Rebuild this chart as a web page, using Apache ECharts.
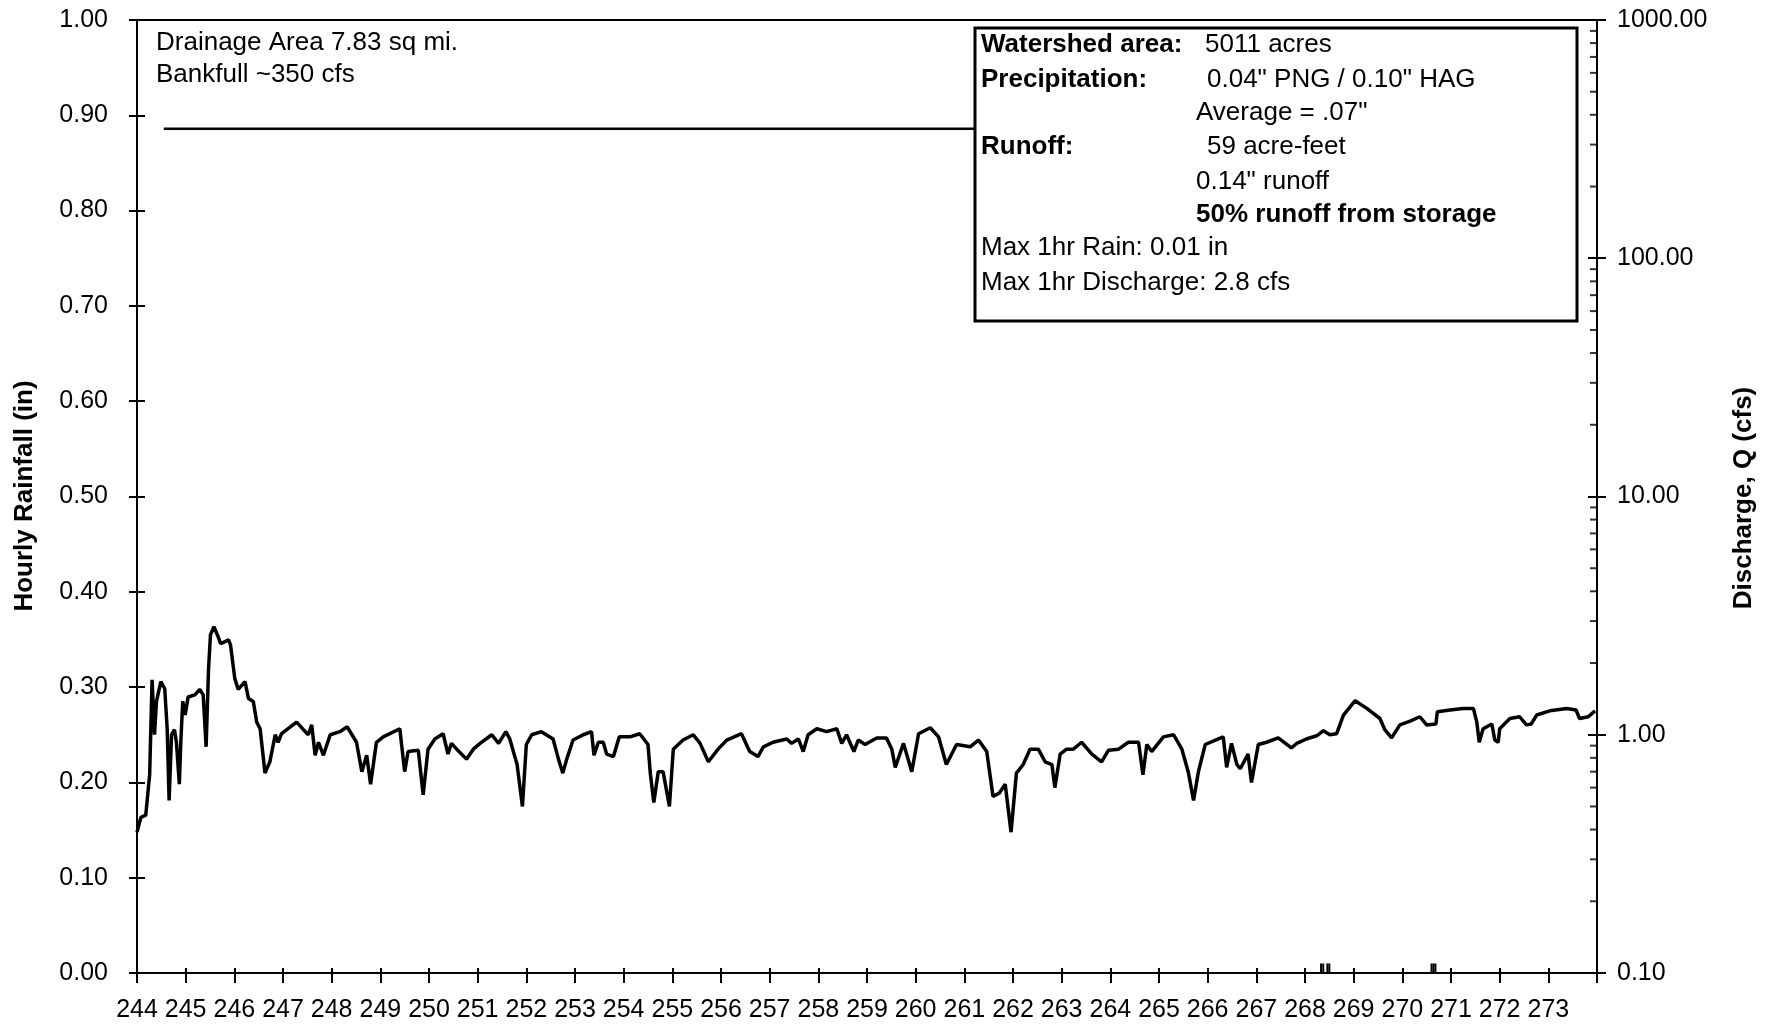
<!DOCTYPE html>
<html>
<head>
<meta charset="utf-8">
<script src="https://cdn.jsdelivr.net/npm/echarts@6/dist/echarts.min.js"></script>
<style>
html, body { margin: 0; padding: 0; background: #fff; }
#chart { width: 1776px; height: 1032px; }
</style>
</head>
<body>
<div id="chart"></div>
<script>
const dischargeDay = [
  244.00, 244.08, 244.18, 244.26, 244.31, 244.36, 244.40, 244.49, 244.57, 244.62,
  244.66, 244.71, 244.77, 244.81, 244.87, 244.90, 244.94, 244.99, 245.05, 245.19,
  245.29, 245.36, 245.42, 245.47, 245.51, 245.58, 245.65, 245.72, 245.88, 245.92,
  246.01, 246.08, 246.22, 246.29, 246.39, 246.46, 246.53, 246.63, 246.73, 246.84,
  246.90, 246.97, 247.28, 247.42, 247.52, 247.59, 247.66, 247.73, 247.83, 247.97,
  248.17, 248.32, 248.51, 248.62, 248.72, 248.80, 248.92, 249.06, 249.40, 249.50,
  249.57, 249.78, 249.88, 249.98, 250.12, 250.29, 250.39, 250.46, 250.57, 250.77,
  250.91, 251.05, 251.29, 251.43, 251.58, 251.66, 251.81, 251.92, 252.00, 252.11,
  252.31, 252.55, 252.66, 252.75, 252.83, 252.96, 253.17, 253.34, 253.39, 253.48,
  253.58, 253.65, 253.79, 253.91, 254.13, 254.33, 254.50, 254.55, 254.62, 254.71,
  254.81, 254.94, 255.02, 255.22, 255.43, 255.57, 255.74, 255.94, 256.12, 256.42,
  256.59, 256.76, 256.87, 257.07, 257.35, 257.45, 257.59, 257.69, 257.79, 257.97,
  258.17, 258.38, 258.48, 258.58, 258.73, 258.82, 258.96, 259.20, 259.40, 259.51,
  259.58, 259.75, 259.92, 260.06, 260.30, 260.47, 260.63, 260.84, 261.12, 261.29,
  261.46, 261.59, 261.72, 261.84, 261.96, 262.07, 262.21, 262.35, 262.52, 262.66,
  262.80, 262.86, 262.97, 263.10, 263.24, 263.41, 263.62, 263.82, 263.96, 264.17,
  264.37, 264.58, 264.67, 264.75, 264.85, 265.09, 265.30, 265.47, 265.60, 265.71,
  265.81, 265.95, 266.16, 266.32, 266.39, 266.49, 266.60, 266.67, 266.83, 266.90,
  267.04, 267.21, 267.45, 267.72, 267.83, 268.03, 268.24, 268.38, 268.51, 268.65,
  268.79, 269.03, 269.27, 269.54, 269.64, 269.78, 269.95, 270.16, 270.36, 270.50,
  270.69, 270.72, 270.98, 271.25, 271.46, 271.53, 271.58, 271.66, 271.84, 271.90,
  271.97, 272.00, 272.21, 272.41, 272.55, 272.65, 272.76, 273.03, 273.38, 273.57,
  273.64, 273.82, 273.96
];
const dischargeQ = [
  0.39, 0.45, 0.46, 0.68, 1.70, 1.00, 1.38, 1.67, 1.56, 1.06,
  0.53, 1.00, 1.05, 0.93, 0.62, 0.93, 1.38, 1.21, 1.44, 1.47,
  1.55, 1.47, 0.89, 1.89, 2.63, 2.84, 2.63, 2.41, 2.50, 2.39,
  1.72, 1.55, 1.67, 1.42, 1.38, 1.13, 1.06, 0.69, 0.77, 1.00,
  0.93, 1.01, 1.13, 1.05, 1.00, 1.10, 0.82, 0.93, 0.82, 1.00,
  1.03, 1.08, 0.93, 0.70, 0.82, 0.62, 0.93, 0.98, 1.06, 0.70,
  0.85, 0.86, 0.56, 0.87, 0.96, 1.01, 0.83, 0.92, 0.87, 0.79,
  0.87, 0.92, 1.00, 0.92, 1.03, 0.96, 0.75, 0.50, 0.91, 1.00,
  1.03, 0.96, 0.79, 0.69, 0.79, 0.95, 1.00, 1.03, 0.82, 0.93,
  0.93, 0.83, 0.81, 0.98, 0.98, 1.01, 0.91, 0.68, 0.52, 0.70,
  0.70, 0.50, 0.87, 0.95, 1.00, 0.92, 0.77, 0.87, 0.95, 1.01,
  0.85, 0.81, 0.89, 0.93, 0.96, 0.92, 0.96, 0.85, 1.00, 1.06,
  1.03, 1.06, 0.92, 1.00, 0.85, 0.95, 0.91, 0.97, 0.97, 0.87,
  0.73, 0.92, 0.70, 1.01, 1.07, 0.98, 0.75, 0.91, 0.89, 0.95,
  0.85, 0.55, 0.57, 0.62, 0.39, 0.69, 0.75, 0.87, 0.87, 0.77,
  0.75, 0.60, 0.83, 0.87, 0.87, 0.93, 0.83, 0.77, 0.86, 0.87,
  0.93, 0.93, 0.68, 0.91, 0.85, 0.98, 1.00, 0.87, 0.70, 0.53,
  0.70, 0.91, 0.95, 0.98, 0.73, 0.92, 0.75, 0.72, 0.83, 0.63,
  0.91, 0.93, 0.97, 0.88, 0.92, 0.96, 0.99, 1.04, 1.00, 1.01,
  1.21, 1.39, 1.29, 1.17, 1.05, 0.97, 1.10, 1.14, 1.19, 1.10,
  1.11, 1.25, 1.27, 1.29, 1.29, 1.13, 0.93, 1.06, 1.11, 0.95,
  0.93, 1.06, 1.17, 1.19, 1.10, 1.11, 1.21, 1.26, 1.29, 1.27,
  1.17, 1.19, 1.26
];

// hourly rainfall (in)
const rainDay = [268.33, 268.375, 268.46, 268.50, 270.60, 270.64, 270.68];
const rainIn = [0.01, 0.01, 0.01, 0.01, 0.01, 0.01, 0.01];

// bankfull reference line
const bankfullDay = [244.55, 268.0];
const bankfullQ = [350, 350];

// minor ticks of the log axis
const minorTickQ = [
  0.2, 0.3, 0.4, 0.5, 0.6, 0.7, 0.8, 0.9,
  2, 3, 4, 5, 6, 7, 8, 9,
  20, 30, 40, 50, 60, 70, 80, 90,
  200, 300, 400, 500, 600, 700, 800, 900
];

const FONT = '"Liberation Sans", Arial, sans-serif';
const zip = (a, b) => a.map((v, i) => [v, b[i]]);

const chart = echarts.init(document.getElementById('chart'));

const txt = (text, x, y, bold) => ({
  type: 'text',
  z: 110,
  style: {
    text: text,
    x: x,
    y: y,
    textVerticalAlign: 'middle',
    font: (bold ? 'bold ' : '') + '26px ' + FONT,
    fill: '#000'
  }
});

const option = {
  animation: false,
  backgroundColor: '#fff',
  grid: {
    left: 137, right: 179, top: 20, bottom: 59,
    show: true, borderColor: '#000', borderWidth: 2, backgroundColor: 'transparent'
  },
  xAxis: [
    {
      type: 'value', min: 244, max: 274, interval: 1,
      axisLine: { lineStyle: { color: '#000', width: 2 } },
      axisTick: { length: 10, lineStyle: { color: '#000', width: 2 } },
      splitLine: { show: false },
      axisLabel: {
        color: '#000', fontSize: 25, fontFamily: FONT, margin: 25,
        formatter: v => (v === 274 ? '' : String(v))
      }
    },
    {
      type: 'value', min: 244, max: 274, interval: 1, position: 'bottom',
      axisLine: { show: false },
      axisTick: { inside: true, length: 5, lineStyle: { color: '#000', width: 2 } },
      splitLine: { show: false },
      axisLabel: { show: false }
    }
  ],
  yAxis: [
    {
      type: 'value', min: 0, max: 1, interval: 0.1, position: 'left',
      axisLine: { show: true, lineStyle: { color: '#000', width: 2 } },
      axisTick: { show: true, length: 8, lineStyle: { color: '#000', width: 2 } },
      splitLine: { show: false },
      axisLabel: {
        color: '#000', fontSize: 25, fontFamily: FONT, margin: 29,
        formatter: v => v.toFixed(2)
      }
    },
    {
      type: 'log', logBase: 10, min: 0.1, max: 1000, position: 'right',
      axisLine: { show: true, lineStyle: { color: '#000', width: 2 } },
      axisTick: { show: true, length: 9, lineStyle: { color: '#000', width: 2 } },
      splitLine: { show: false },
      minorTick: { show: false },
      axisLabel: {
        color: '#000', fontSize: 25, fontFamily: FONT, margin: 20,
        formatter: v => Number(v).toFixed(2)
      }
    },
    {
      type: 'log', logBase: 10, min: 0.1, max: 1000, position: 'right',
      axisLine: { show: false },
      axisTick: { show: true, inside: true, length: 9, lineStyle: { color: '#000', width: 2 } },
      splitLine: { show: false },
      axisLabel: { show: false }
    },
    {
      type: 'value', min: 0, max: 1, interval: 0.1, position: 'left',
      axisLine: { show: false },
      axisTick: { show: true, inside: true, length: 8, lineStyle: { color: '#000', width: 2 } },
      splitLine: { show: false },
      axisLabel: { show: false }
    }
  ],
  series: [
    {
      name: 'Rainfall',
      type: 'bar',
      xAxisIndex: 0,
      yAxisIndex: 0,
      barWidth: 2,
      itemStyle: { color: '#000' },
      data: zip(rainDay, rainIn)
    },
    {
      name: 'Discharge',
      type: 'line',
      xAxisIndex: 0,
      yAxisIndex: 1,
      showSymbol: false,
      lineStyle: { color: '#000', width: 3.5 },
      data: zip(dischargeDay, dischargeQ)
    },
    {
      name: 'Bankfull',
      type: 'line',
      xAxisIndex: 0,
      yAxisIndex: 1,
      showSymbol: false,
      lineStyle: { color: '#000', width: 2.5 },
      data: zip(bankfullDay, bankfullQ)
    },
    {
      name: 'minor ticks',
      type: 'scatter',
      xAxisIndex: 0,
      yAxisIndex: 1,
      silent: true,
      clip: false,
      symbol: 'rect',
      symbolSize: [7, 2],
      symbolOffset: [-3.5, 0],
      itemStyle: { color: '#000' },
      data: minorTickQ.map(q => [274, q])
    }
  ],
  graphic: [
    {
      type: 'text', z: 110, x: 25, y: 496, rotation: Math.PI / 2,
      style: {
        text: 'Hourly Rainfall (in)', textAlign: 'center', textVerticalAlign: 'middle',
        font: 'bold 26px ' + FONT, fill: '#000'
      }
    },
    {
      type: 'text', z: 110, x: 1744, y: 498, rotation: Math.PI / 2,
      style: {
        text: 'Discharge, Q (cfs)', textAlign: 'center', textVerticalAlign: 'middle',
        font: 'bold 26px ' + FONT, fill: '#000'
      }
    },
    txt('Drainage Area 7.83 sq mi.', 156, 43, false),
    txt('Bankfull ~350 cfs', 156, 75, false),
    {
      type: 'rect', z: 100,
      shape: { x: 975, y: 28, width: 602, height: 293 },
      style: { fill: '#fff', stroke: '#000', lineWidth: 3 }
    },
    txt('Watershed area:', 981, 45, true),
    txt('5011 acres', 1205, 45, false),
    txt('Precipitation:', 981, 80, true),
    txt('0.04" PNG / 0.10" HAG', 1207, 80, false),
    txt('Average = .07"', 1196, 113, false),
    txt('Runoff:', 981, 147, true),
    txt('59 acre-feet', 1207, 147, false),
    txt('0.14" runoff', 1196, 182, false),
    txt('50% runoff from storage', 1196, 215, true),
    txt('Max 1hr Rain: 0.01 in', 981, 248, false),
    txt('Max 1hr Discharge: 2.8 cfs', 981, 283, false)
  ]
};

chart.setOption(option);
</script>
</body>
</html>
